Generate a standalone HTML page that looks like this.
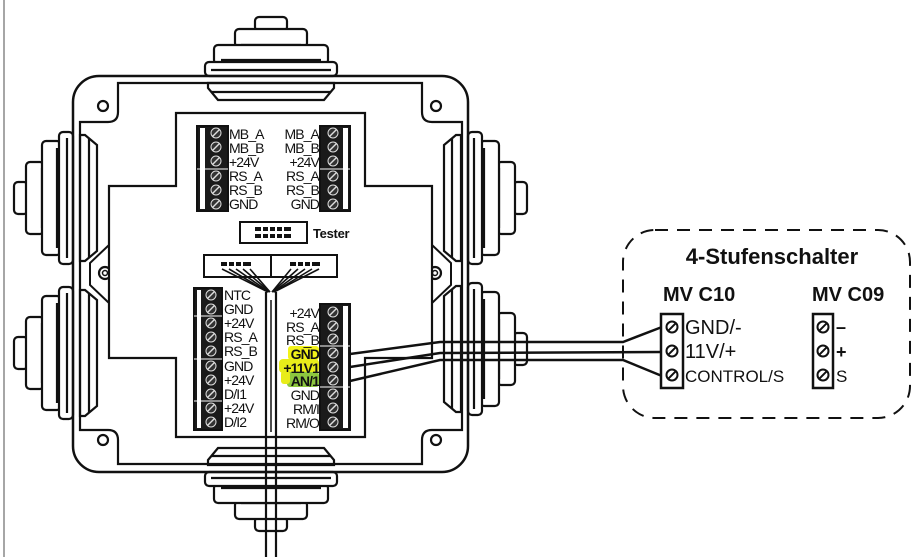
<!DOCTYPE html>
<html><head><meta charset="utf-8"><style>
html,body{margin:0;padding:0;background:#fff}
svg{display:block}
text{font-family:"Liberation Sans",sans-serif;fill:#111}
.l{font-size:14px;letter-spacing:-0.9px}
</style></head><body>
<svg width="914" height="557" viewBox="0 0 914 557" xmlns="http://www.w3.org/2000/svg">
<defs>
<g id="gland" fill="#fff" stroke="#111" stroke-width="2.2">
  <rect x="-16" y="-59" width="32" height="14" rx="4"/>
  <rect x="-36" y="-47" width="72" height="18" rx="4"/>
  <line x1="-30" y1="-31" x2="30" y2="-31"/>
  <rect x="-57" y="-31" width="114" height="19" rx="4"/>
  <line x1="-50" y1="-16" x2="50" y2="-16"/>
  <rect x="-66" y="-14" width="132" height="14" rx="4"/>
  <line x1="-60" y1="-6" x2="60" y2="-6"/>
  <polygon points="-63,7 63,7 63,12 53,24 -53,24 -63,12"/>
  <line x1="-60" y1="16" x2="60" y2="16"/>
</g>
<g id="cell">
  <circle cx="0" cy="0" r="5" fill="#333" stroke="#ddd" stroke-width="1"/>
  <line x1="-3.5" y1="3.5" x2="3.5" y2="-3.5" stroke="#ddd" stroke-width="1.4"/>
</g>
<g id="scr">
  <circle cx="0" cy="0" r="5.5" fill="#fff" stroke="#111" stroke-width="2"/>
  <line x1="-3.8" y1="3.8" x2="3.8" y2="-3.8" stroke="#111" stroke-width="2"/>
</g>
</defs>

<line x1="4" y1="0" x2="4" y2="557" stroke="#888" stroke-width="1.5"/>

<use href="#gland" transform="translate(271,76)"/>
<use href="#gland" transform="translate(271,472) rotate(180)"/>
<use href="#gland" transform="translate(73,198) rotate(-90)"/>
<use href="#gland" transform="translate(73,353) rotate(-90)"/>
<use href="#gland" transform="translate(468,198) rotate(90)"/>
<use href="#gland" transform="translate(468,349) rotate(90)"/>

<rect x="73" y="76" width="395" height="396" rx="26" fill="none" stroke="#111" stroke-width="2.5"/>
<path d="M118,83 H422 V112 Q422,122 432,122 H462 V430 H432 Q422,430 422,440 V464 H118 V440 Q118,430 108,430 H80 V122 H108 Q118,122 118,112 Z" fill="none" stroke="#111" stroke-width="2.2"/>
<polyline points="109,245 90,263 90,285 109,303" fill="none" stroke="#111" stroke-width="2"/>
<polyline points="432,245 451,263 451,285 432,303" fill="none" stroke="#111" stroke-width="2"/>
<g fill="none" stroke="#111" stroke-width="2.2">
<circle cx="103" cy="106" r="5"/><circle cx="436" cy="106" r="5"/>
<circle cx="103" cy="440" r="5"/><circle cx="436" cy="440" r="5"/>
<circle cx="105" cy="273" r="6"/><circle cx="105" cy="273" r="2.5" stroke-width="1.5"/>
<circle cx="435" cy="273" r="6"/><circle cx="435" cy="273" r="2.5" stroke-width="1.5"/>
</g>
<path d="M176,113 H365 V186 H432 V358 H365 V437 H176 V358 H109 V186 H176 Z" fill="#fff" stroke="#111" stroke-width="2.2"/>

<!-- top-left block -->
<rect x="197" y="126" width="31" height="85" fill="#1a1a1a" stroke="#111" stroke-width="2"/>
<rect x="200" y="128" width="5" height="81" fill="#fff"/>
<line x1="197" y1="169" x2="228" y2="169" stroke="#fff" stroke-width="1"/>
<g transform="translate(216,0)"><use href="#cell" y="133"/><use href="#cell" y="147"/><use href="#cell" y="161"/><use href="#cell" y="176"/><use href="#cell" y="190"/><use href="#cell" y="204"/></g>
<g><text x="229" y="139" class="l">MB_A</text><text x="229" y="153" class="l">MB_B</text><text x="229" y="167" class="l">+24V</text><text x="229" y="181" class="l">RS_A</text><text x="229" y="195" class="l">RS_B</text><text x="229" y="209" class="l">GND</text></g>
<!-- top-right block -->
<rect x="320" y="126" width="30" height="85" fill="#1a1a1a" stroke="#111" stroke-width="2"/>
<rect x="343" y="128" width="5" height="81" fill="#fff"/>
<line x1="320" y1="169" x2="350" y2="169" stroke="#fff" stroke-width="1"/>
<g transform="translate(333,0)"><use href="#cell" y="133"/><use href="#cell" y="147"/><use href="#cell" y="161"/><use href="#cell" y="176"/><use href="#cell" y="190"/><use href="#cell" y="204"/></g>
<g text-anchor="end"><text x="319" y="139" class="l">MB_A</text><text x="319" y="153" class="l">MB_B</text><text x="319" y="167" class="l">+24V</text><text x="319" y="181" class="l">RS_A</text><text x="319" y="195" class="l">RS_B</text><text x="319" y="209" class="l">GND</text></g>

<!-- tester -->
<rect x="240" y="222" width="67" height="21" fill="#fff" stroke="#111" stroke-width="2"/>
<g fill="#111"><rect x="255" y="227" width="36" height="4"/><rect x="255" y="234" width="36" height="4"/></g>
<g stroke="#fff" stroke-width="2"><line x1="262" y1="226" x2="262" y2="239"/><line x1="269" y1="226" x2="269" y2="239"/><line x1="276" y1="226" x2="276" y2="239"/><line x1="283" y1="226" x2="283" y2="239"/></g>
<text x="313" y="238" font-size="13" font-weight="bold" letter-spacing="-0.3">Tester</text>

<!-- connectors -->
<rect x="204" y="255" width="133" height="22" fill="#fff" stroke="#111" stroke-width="2"/>
<line x1="271" y1="255" x2="271" y2="277" stroke="#111" stroke-width="2"/>
<g fill="#111"><rect x="221" y="262" width="30" height="4"/><rect x="290" y="262" width="30" height="4"/></g>
<g stroke="#fff" stroke-width="2"><line x1="228" y1="261" x2="228" y2="267"/><line x1="235" y1="261" x2="235" y2="267"/><line x1="242" y1="261" x2="242" y2="267"/><line x1="297" y1="261" x2="297" y2="267"/><line x1="304" y1="261" x2="304" y2="267"/><line x1="311" y1="261" x2="311" y2="267"/></g>
<g stroke="#111" stroke-width="1.6" fill="none">
<line x1="222" y1="269" x2="268" y2="292"/><line x1="229" y1="269" x2="268" y2="292"/><line x1="236" y1="269" x2="269" y2="292"/><line x1="243" y1="269" x2="270" y2="292"/><line x1="250" y1="269" x2="270" y2="292"/>
<line x1="291" y1="269" x2="272" y2="292"/><line x1="298" y1="269" x2="272" y2="292"/><line x1="305" y1="269" x2="273" y2="292"/><line x1="312" y1="269" x2="274" y2="292"/><line x1="319" y1="269" x2="274" y2="292"/>
</g>
<g stroke="#111" stroke-width="2.2"><line x1="266" y1="292" x2="266" y2="557"/><line x1="276" y1="292" x2="276" y2="557"/><line x1="271" y1="300" x2="271" y2="432" stroke-width="1.5"/></g>

<!-- bottom-left block (10 rows) -->
<rect x="194" y="288" width="28" height="142" fill="#1a1a1a" stroke="#111" stroke-width="2"/>
<rect x="197" y="290" width="4" height="138" fill="#fff"/>
<g stroke="#fff" stroke-width="1"><line x1="194" y1="316" x2="222" y2="316"/><line x1="194" y1="359" x2="222" y2="359"/><line x1="194" y1="401" x2="222" y2="401"/></g>
<g transform="translate(211,0)"><use href="#cell" y="295"/><use href="#cell" y="309"/><use href="#cell" y="323"/><use href="#cell" y="337"/><use href="#cell" y="351"/><use href="#cell" y="366"/><use href="#cell" y="380"/><use href="#cell" y="394"/><use href="#cell" y="408"/><use href="#cell" y="422"/></g>
<g><text x="224" y="300" class="l">NTC</text><text x="224" y="314" class="l">GND</text><text x="224" y="328" class="l">+24V</text><text x="224" y="342" class="l">RS_A</text><text x="224" y="356" class="l">RS_B</text><text x="224" y="371" class="l">GND</text><text x="224" y="385" class="l">+24V</text><text x="224" y="399" class="l">D/I1</text><text x="224" y="413" class="l">+24V</text><text x="224" y="427" class="l">D/I2</text></g>

<!-- bottom-right block -->
<rect x="320" y="304" width="30" height="126" fill="#1a1a1a" stroke="#111" stroke-width="2"/>
<rect x="343" y="306" width="5" height="122" fill="#fff"/>
<g stroke="#fff" stroke-width="1"><line x1="320" y1="346" x2="350" y2="346"/><line x1="320" y1="387" x2="350" y2="387"/></g>
<g transform="translate(333,0)"><use href="#cell" y="312"/><use href="#cell" y="326"/><use href="#cell" y="339"/><use href="#cell" y="353"/><use href="#cell" y="367"/><use href="#cell" y="380"/><use href="#cell" y="394"/><use href="#cell" y="408"/><use href="#cell" y="422"/></g>
<rect x="288" y="346" width="31" height="14" fill="#f2f21a" rx="3"/>
<rect x="279" y="359" width="40" height="14" fill="#e8ec1a" rx="4"/>
<rect x="287" y="372" width="32" height="15" fill="#8dc63f" rx="3"/>
<rect x="281" y="371" width="9" height="13" fill="#e8ec1a" rx="3"/>
<g text-anchor="end"><text x="319" y="318" class="l">+24V</text><text x="319" y="332" class="l">RS_A</text><text x="319" y="345" class="l">RS_B</text>
<text x="319" y="359" class="l" font-weight="bold">GND</text><text x="319" y="373" class="l" font-weight="bold">+11V1</text><text x="319" y="386" class="l" font-weight="bold">AN/1</text>
<text x="319" y="400" class="l">GND</text><text x="319" y="414" class="l">RM/I</text><text x="319" y="428" class="l">RM/O</text></g>

<!-- wires -->
<g stroke="#111" stroke-width="2.5" fill="none">
<polyline points="350,354 440,342 623,342 662,327"/>
<polyline points="350,367 440,353 662,352"/>
<polyline points="350,381 440,360 623,360 662,376"/>
</g>

<!-- dashed box -->
<rect x="623" y="230" width="287" height="188" rx="32" fill="none" stroke="#111" stroke-width="2" stroke-dasharray="13,9"/>
<text x="772" y="264" font-size="22" font-weight="bold" text-anchor="middle">4-Stufenschalter</text>
<text x="663" y="301" font-size="20" font-weight="bold">MV C10</text>
<text x="812" y="301" font-size="20" font-weight="bold">MV C09</text>
<rect x="661" y="314" width="22" height="74" fill="#fff" stroke="#111" stroke-width="2.5"/>
<use href="#scr" x="672" y="327"/><use href="#scr" x="672" y="351"/><use href="#scr" x="672" y="375"/>
<text x="685" y="334" font-size="20">GND/-</text>
<text x="685" y="358" font-size="20">11V/+</text>
<text x="685" y="382" font-size="17">CONTROL/S</text>
<rect x="813" y="314" width="20" height="74" fill="#fff" stroke="#111" stroke-width="2.5"/>
<use href="#scr" x="823" y="327"/><use href="#scr" x="823" y="351"/><use href="#scr" x="823" y="375"/>
<text x="836" y="333" font-size="18" font-weight="bold">–</text>
<text x="836" y="358" font-size="18" font-weight="bold">+</text>
<text x="836" y="382" font-size="17">S</text>
</svg>
</body></html>
